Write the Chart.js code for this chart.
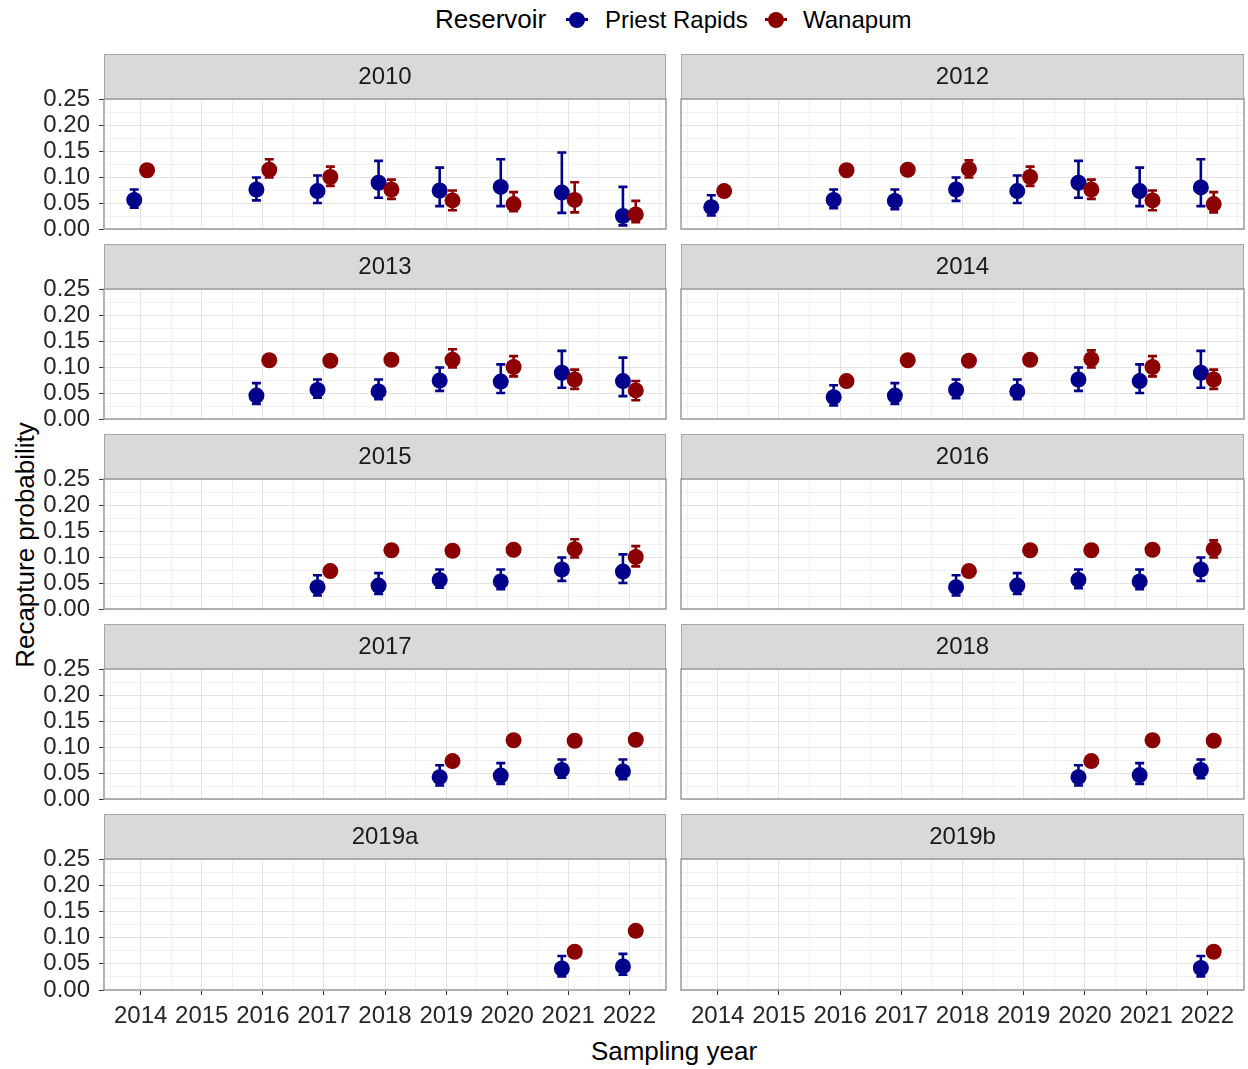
<!DOCTYPE html>
<html lang="en">
<head>
<meta charset="UTF-8">
<title>Recapture probability</title>
<script src="https://cdn.jsdelivr.net/npm/chart.js"></script>
<style>
  body { margin: 0; background: #fff; font-family: "Liberation Sans", Arial, sans-serif; }
  #wrap { position: relative; width: 1248px; height: 1069px; overflow: hidden; }
  canvas.panel { position: absolute; }
  .txt { position: absolute; white-space: nowrap; color: #000; line-height: 30px; }
  .key { position: absolute; width: 16px; height: 16px; border-radius: 50%; }
  .keyline { position: absolute; width: 22px; height: 3px; }
</style>
</head>
<body>
<div id="wrap">
  <div class="txt" style="left:435px; top:4px; font-size:26px;">Reservoir</div>
  <div class="keyline" style="left:566px; top:18px; background:#00008b;"></div>
  <div class="key" style="left:569px; top:11.5px; background:#00008b;"></div>
  <div class="txt" style="left:605px; top:5px; font-size:24px;">Priest Rapids</div>
  <div class="keyline" style="left:765px; top:18px; background:#8b0000;"></div>
  <div class="key" style="left:768px; top:11.5px; background:#8b0000;"></div>
  <div class="txt" style="left:803px; top:5px; font-size:24px;">Wanapum</div>
  <div class="txt" style="left:25px; top:545px; font-size:26px; transform: translate(-50%, -50%) rotate(-90deg);">Recapture probability</div>
  <div class="txt" style="left:674px; top:1036px; font-size:26px; transform: translateX(-50%);">Sampling year</div>
</div>

<script>
// facet labels (release cohort) and sampling years
const cohorts = ['2010', '2012', '2013', '2014', '2015', '2016', '2017', '2018', '2019a', '2019b'];
const years = [2014, 2015, 2016, 2017, 2018, 2019, 2020, 2021, 2022];
const yTicks = [0, 0.025, 0.05, 0.075, 0.1, 0.125, 0.15, 0.175, 0.2, 0.225, 0.25];
const xTicks = [2013.5, 2014, 2014.5, 2015, 2015.5, 2016, 2016.5, 2017, 2017.5, 2018, 2018.5,
                2019, 2019.5, 2020, 2020.5, 2021, 2021.5, 2022, 2022.5];

const n = null;
// Priest Rapids: estimate, lower and upper limits (one row per cohort)
const prEst = [
  [0.056, n, 0.076, 0.073, 0.089, 0.074, 0.081, 0.070, 0.025],
  [0.042, n, 0.056, 0.054, 0.076, 0.073, 0.089, 0.073, 0.080],
  [n, n, 0.045, 0.056, 0.053, 0.074, 0.072, 0.089, 0.073],
  [n, n, 0.042, 0.045, 0.056, 0.053, 0.076, 0.073, 0.089],
  [n, n, n, 0.042, 0.045, 0.056, 0.053, 0.076, 0.072],
  [n, n, n, n, 0.042, 0.045, 0.056, 0.053, 0.076],
  [n, n, n, n, n, 0.042, 0.045, 0.056, 0.053],
  [n, n, n, n, n, n, 0.042, 0.046, 0.056],
  [n, n, n, n, n, n, n, 0.041, 0.045],
  [n, n, n, n, n, n, n, n, 0.042]
];
const prLow = [
  [0.041, n, 0.055, 0.050, 0.060, 0.044, 0.044, 0.031, 0.007],
  [0.026, n, 0.040, 0.038, 0.054, 0.050, 0.060, 0.044, 0.044],
  [n, n, 0.029, 0.041, 0.038, 0.054, 0.050, 0.060, 0.044],
  [n, n, 0.026, 0.029, 0.040, 0.038, 0.054, 0.050, 0.060],
  [n, n, n, 0.026, 0.029, 0.041, 0.038, 0.054, 0.050],
  [n, n, n, n, 0.026, 0.029, 0.040, 0.038, 0.054],
  [n, n, n, n, n, 0.026, 0.029, 0.041, 0.038],
  [n, n, n, n, n, n, 0.026, 0.029, 0.040],
  [n, n, n, n, n, n, n, 0.026, 0.029],
  [n, n, n, n, n, n, n, n, 0.026]
];
const prHigh = [
  [0.076, n, 0.099, 0.103, 0.131, 0.118, 0.134, 0.147, 0.081],
  [0.065, n, 0.076, 0.076, 0.099, 0.103, 0.131, 0.118, 0.134],
  [n, n, 0.069, 0.076, 0.076, 0.099, 0.105, 0.131, 0.118],
  [n, n, 0.065, 0.069, 0.076, 0.076, 0.099, 0.105, 0.131],
  [n, n, n, 0.065, 0.069, 0.076, 0.076, 0.099, 0.105],
  [n, n, n, n, 0.065, 0.069, 0.076, 0.076, 0.099],
  [n, n, n, n, n, 0.065, 0.069, 0.076, 0.076],
  [n, n, n, n, n, n, 0.065, 0.069, 0.076],
  [n, n, n, n, n, n, n, 0.065, 0.069],
  [n, n, n, n, n, n, n, n, 0.065]
];
// Wanapum
const waEst = [
  [0.113, n, 0.114, 0.100, 0.076, 0.055, 0.048, 0.056, 0.028],
  [0.073, n, 0.113, 0.114, 0.115, 0.100, 0.076, 0.055, 0.048],
  [n, n, 0.113, 0.112, 0.114, 0.114, 0.100, 0.076, 0.055],
  [n, n, 0.073, 0.113, 0.112, 0.114, 0.115, 0.100, 0.076],
  [n, n, n, 0.073, 0.113, 0.112, 0.114, 0.115, 0.100],
  [n, n, n, n, 0.073, 0.113, 0.113, 0.114, 0.115],
  [n, n, n, n, n, 0.073, 0.113, 0.112, 0.114],
  [n, n, n, n, n, n, 0.073, 0.113, 0.112],
  [n, n, n, n, n, n, n, 0.073, 0.113],
  [n, n, n, n, n, n, n, n, 0.073]
];
const waLow = [
  [0.109, n, 0.099, 0.083, 0.058, 0.036, 0.034, 0.032, 0.013],
  [0.069, n, 0.109, 0.110, 0.099, 0.083, 0.058, 0.036, 0.032],
  [n, n, 0.109, 0.108, 0.110, 0.099, 0.082, 0.058, 0.036],
  [n, n, 0.069, 0.109, 0.108, 0.110, 0.099, 0.082, 0.058],
  [n, n, n, 0.069, 0.109, 0.108, 0.110, 0.099, 0.082],
  [n, n, n, n, 0.069, 0.109, 0.109, 0.110, 0.099],
  [n, n, n, n, n, 0.069, 0.109, 0.108, 0.110],
  [n, n, n, n, n, n, 0.069, 0.109, 0.108],
  [n, n, n, n, n, n, n, 0.069, 0.109],
  [n, n, n, n, n, n, n, n, 0.069]
];
const waHigh = [
  [0.117, n, 0.134, 0.120, 0.095, 0.074, 0.071, 0.090, 0.054],
  [0.077, n, 0.117, 0.118, 0.132, 0.120, 0.095, 0.074, 0.071],
  [n, n, 0.117, 0.116, 0.118, 0.134, 0.121, 0.095, 0.073],
  [n, n, 0.077, 0.117, 0.116, 0.118, 0.132, 0.121, 0.095],
  [n, n, n, 0.077, 0.117, 0.116, 0.118, 0.134, 0.121],
  [n, n, n, n, 0.077, 0.117, 0.117, 0.118, 0.132],
  [n, n, n, n, n, 0.077, 0.117, 0.116, 0.118],
  [n, n, n, n, n, n, 0.077, 0.117, 0.116],
  [n, n, n, n, n, n, n, 0.077, 0.117],
  [n, n, n, n, n, n, n, n, 0.077]
];

const BLUE = '#00008b';
const RED = '#8b0000';
const DODGE = 0.105;
const STRIP = 45;

Chart.defaults.font.family = '"Liberation Sans", Arial, sans-serif';
Chart.defaults.font.size = 24;
Chart.defaults.color = '#333333';

const isMajorY = v => Math.abs(v / 0.05 - Math.round(v / 0.05)) < 1e-6;
const isMajorX = v => Math.abs(v - Math.round(v)) < 1e-6;

// error bars drawn under the points, from each point's lo/hi through the y scale
const errorBars = {
  id: 'errorBars',
  beforeDatasetsDraw(chart) {
    const { ctx, scales: { x, y } } = chart;
    chart.data.datasets.forEach(ds => {
      ctx.save();
      ctx.strokeStyle = ds.backgroundColor;
      ctx.lineWidth = 2.6;
      ds.data.forEach(p => {
        const px = x.getPixelForValue(p.x);
        const lo = y.getPixelForValue(p.lo);
        const hi = y.getPixelForValue(p.hi);
        ctx.beginPath();
        ctx.moveTo(px, lo); ctx.lineTo(px, hi);
        ctx.moveTo(px - 4.5, lo); ctx.lineTo(px + 4.5, lo);
        ctx.moveTo(px - 4.5, hi); ctx.lineTo(px + 4.5, hi);
        ctx.stroke();
      });
      ctx.restore();
    });
  }
};

// facet strip above the panel and the panel border
const frame = {
  id: 'frame',
  beforeDraw(chart, args, opts) {
    const { ctx, chartArea: a } = chart;
    ctx.save();
    ctx.fillStyle = '#d9d9d9';
    ctx.fillRect(a.left, a.top - STRIP, a.width, STRIP);
    ctx.strokeStyle = '#a6a6a6';
    ctx.lineWidth = 1;
    ctx.strokeRect(a.left + 0.5, a.top - STRIP + 0.5, a.width - 1, STRIP);
    ctx.fillStyle = '#1a1a1a';
    ctx.font = '24px "Liberation Sans", Arial, sans-serif';
    ctx.textAlign = 'center';
    ctx.textBaseline = 'middle';
    ctx.fillText(opts.label, (a.left + a.right) / 2, a.top - STRIP / 2 + 1);
    ctx.restore();
  },
  afterDraw(chart) {
    const { ctx, chartArea: a } = chart;
    ctx.save();
    ctx.strokeStyle = '#9a9a9a';
    ctx.lineWidth = 1.5;
    ctx.strokeRect(a.left, a.top, a.width, a.height);
    ctx.restore();
  }
};

function points(est, lo, hi, dx) {
  const out = [];
  years.forEach((yr, k) => {
    if (est[k] != null) out.push({ x: yr + dx, y: est[k], lo: lo[k], hi: hi[k] });
  });
  return out;
}

function makePanel(i) {
  const col = i % 2, row = Math.floor(i / 2);
  const left = col === 0;
  const bottom = row === 4;
  const plotH = bottom ? 131 : 130;
  const padB = bottom ? 0 : 25;
  const cv = document.createElement('canvas');
  cv.className = 'panel';
  cv.width = left ? 670 : 571;
  cv.height = STRIP + plotH + (bottom ? 50 : padB);
  cv.style.left = (left ? 0 : 677) + 'px';
  cv.style.top = (54 + 190 * row) + 'px';
  document.getElementById('wrap').appendChild(cv);

  new Chart(cv, {
    type: 'scatter',
    data: {
      datasets: [
        {
          label: 'Wanapum',
          data: points(waEst[i], waLow[i], waHigh[i], DODGE),
          backgroundColor: RED,
          borderWidth: 0,
          pointRadius: 8,
          order: 0
        },
        {
          label: 'Priest Rapids',
          data: points(prEst[i], prLow[i], prHigh[i], -DODGE),
          backgroundColor: BLUE,
          borderWidth: 0,
          pointRadius: 8,
          order: 1
        }
      ]
    },
    options: {
      responsive: false,
      animation: false,
      events: [],
      layout: {
        autoPadding: false,
        padding: { left: left ? 0 : 4, right: 4, top: STRIP, bottom: padB }
      },
      plugins: {
        legend: { display: false },
        tooltip: { enabled: false },
        frame: { label: cohorts[i] }
      },
      scales: {
        x: {
          type: 'linear',
          min: 2013.4,
          max: 2022.6,
          afterBuildTicks: s => { s.ticks = xTicks.map(v => ({ value: v })); },
          afterFit: s => { s.height = bottom ? 50 : 0; },
          border: { display: false },
          grid: {
            color: c => isMajorX(c.tick.value) ? '#e3e3e3' : '#f1f1f1',
            lineWidth: 1,
            drawTicks: bottom,
            tickLength: 5,
            tickColor: c => isMajorX(c.tick.value) ? '#333333' : 'rgba(0,0,0,0)'
          },
          ticks: {
            display: bottom,
            autoSkip: false,
            maxRotation: 0,
            padding: 7,
            color: '#262626',
            callback: v => isMajorX(v) ? String(Math.round(v)) : ''
          }
        },
        y: {
          type: 'linear',
          min: 0,
          max: 0.25,
          afterBuildTicks: s => { s.ticks = yTicks.map(v => ({ value: v })); },
          afterFit: s => { s.width = left ? 104 : 0; },
          border: { display: false },
          grid: {
            color: c => isMajorY(c.tick.value) ? '#e3e3e3' : '#f1f1f1',
            lineWidth: 1,
            drawTicks: left,
            tickLength: 5,
            tickColor: c => isMajorY(c.tick.value) ? '#333333' : 'rgba(0,0,0,0)'
          },
          ticks: {
            display: left,
            autoSkip: false,
            padding: 9,
            color: '#262626',
            callback: v => isMajorY(v) ? v.toFixed(2) : ''
          }
        }
      }
    },
    plugins: [frame, errorBars]
  });
}

cohorts.forEach((c, i) => makePanel(i));
</script>
</body>
</html>
